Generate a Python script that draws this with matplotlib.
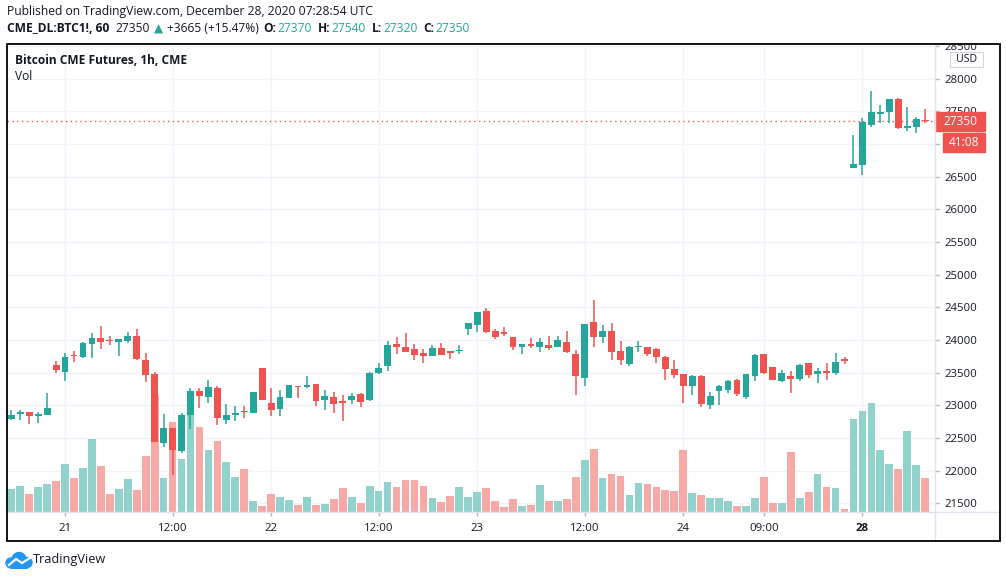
import matplotlib
matplotlib.use("Agg")
import matplotlib.pyplot as plt
from matplotlib.patches import Rectangle, Circle
import numpy as np

plt.rcParams['font.family'] = ['Open Sans', 'DejaVu Sans']

W, H = 1006, 578

# hourly OHLC, CME BTC futures, Dec 20 18:00 UTC .. Dec 28 07:00 UTC
opens = [22796, 22873, 22898, 22842, 22858, 23617, 23516, 23760, 23740, 23944,
         24031, 23985, 23974, 23990, 24061, 23694, 23480, 22429, 22654, 22307,
         22853, 23220, 23133, 23265, 22781, 22858, 22900, 22888, 23572, 23036,
         22949, 23118, 23291, 23286, 23319, 23080, 23121, 23060, 23080, 23167,
         23080, 23492, 23599, 23944, 23898, 23868, 23807, 23761, 23883, 23837,
         23827, 24163, 24224, 24449, 24143, 24112, 24051, 23888, 23944, 23888,
         23929, 23888, 23974, 23791, 23424, 24281, 24051, 24143, 23837, 23638,
         23893, 23898, 23867, 23745, 23556, 23480, 23301, 23449, 23011, 23225,
         23235, 23388, 23133, 23454, 23786, 23587, 23378, 23449, 23408, 23648,
         23485, 23505, 23500, 23690, 26638, 26679, 27286, 27464, 27495, 27689,
         27250, 27265, 27370]
highs = [22929, 22929, 22898, 22903, 23189, 23679, 23801, 23832, 23969, 24107,
         24214, 24061, 24015, 24122, 24168, 23801, 23510, 22868, 22654, 22883,
         23260, 23260, 23388, 23291, 23020, 22990, 22990, 23204, 23572, 23266,
         23235, 23312, 23291, 23449, 23319, 23228, 23197, 23152, 23182, 23182,
         23517, 23655, 23990, 24051, 24112, 23944, 23868, 23929, 23959, 23837,
         23929, 24265, 24434, 24495, 24173, 24204, 24051, 23944, 24036, 24036,
         24066, 24066, 24143, 23852, 24250, 24617, 24235, 24265, 23990, 23913,
         23990, 23898, 23883, 23760, 23694, 23480, 23465, 23465, 23204, 23312,
         23388, 23403, 23480, 23786, 23786, 23587, 23541, 23526, 23633, 23648,
         23572, 23648, 23801, 23740, 27138, 27403, 27811, 27602, 27689, 27700,
         27566, 27418, 27540]
lows = [22776, 22776, 22715, 22735, 22858, 23495, 23378, 23668, 23724, 23724,
        23862, 23929, 23760, 23959, 23694, 23362, 22439, 22368, 21940, 22276,
        22643, 22965, 23041, 22705, 22720, 22766, 22812, 22888, 23087, 22842,
        22842, 23118, 23118, 23271, 22989, 22928, 22882, 22760, 23020, 22974,
        23065, 23477, 23522, 23782, 23812, 23700, 23644, 23761, 23776, 23715,
        23781, 24071, 24117, 24112, 24010, 24066, 23842, 23781, 23873, 23811,
        23842, 23888, 23806, 23164, 23301, 23888, 23959, 23699, 23623, 23607,
        23822, 23760, 23653, 23393, 23424, 23041, 23164, 22980, 22949, 23011,
        23194, 23148, 23102, 23378, 23485, 23393, 23363, 23194, 23378, 23424,
        23347, 23393, 23470, 23638, 26638, 26531, 27265, 27326, 27326, 27235,
        27204, 27173, 27320]
closes = [22847, 22898, 22837, 22868, 22960, 23541, 23740, 23750, 23954, 24031,
          23974, 23980, 24015, 24061, 23709, 23470, 22439, 22654, 22317, 22847,
          23220, 23148, 23281, 22812, 22847, 22883, 22893, 23204, 23087, 22934,
          23128, 23312, 23281, 23312, 23065, 23147, 23020, 23035, 23147, 23050,
          23487, 23578, 23929, 23888, 23822, 23776, 23751, 23883, 23776, 23807,
          23832, 24265, 24434, 24128, 24041, 24097, 23888, 23944, 23903, 23974,
          23873, 24005, 23822, 23454, 24250, 24051, 24143, 23822, 23699, 23898,
          23898, 23791, 23745, 23561, 23470, 23301, 23449, 23026, 23143, 23296,
          23373, 23179, 23480, 23771, 23500, 23393, 23495, 23408, 23617, 23470,
          23526, 23500, 23663, 23685, 26689, 27337, 27490, 27480, 27689, 27245,
          27270, 27377, 27350]
volume = [23, 26, 18, 25, 28, 31, 48, 34, 44, 73, 46, 18, 23, 33, 22, 56, 117, 34,
          90, 53, 113, 85, 62, 71, 50, 35, 43, 11, 6, 18, 15, 12, 7, 15, 7, 8, 13,
          24, 15, 9, 26, 21, 30, 25, 32, 32, 26, 14, 10, 16, 25, 15, 20, 24, 11, 5,
          13, 6, 7, 27, 11, 11, 13, 35, 52, 63, 34, 38, 36, 17, 29, 28, 25, 22, 21,
          62, 19, 17, 14, 14, 11, 6, 6, 14, 35, 9, 9, 60, 14, 20, 38, 25, 24, 3,
          93, 101, 109, 62, 48, 43, 81, 47, 34]

tick_idx = [6, 18, 29, 41, 52, 64, 75, 84, 95]
tick_labels = ['21', '12:00', '22', '12:00', '23', '12:00', '24', '09:00', '28']
price_ticks = list(range(21500, 28501, 500))

last_price = 27350
countdown = '41:08'

up_col = '#26a69a'
down_col = '#ef5350'
up_vol = '#92d2cc'
down_vol = '#f7a9a7'
grid_col = '#f0f3fa'
line_col = '#e0e3eb'
text_col = '#131722'

fig = plt.figure(figsize=(W / 100, H / 100), dpi=100)


def fx(x):
    return x / W


def fy(y):
    return 1 - y / H


# pane in pixels
pl, pt, pr, pb = 7, 44, 935, 512
rect = [fx(pl), fy(pb), (pr - pl) / W, (pb - pt) / H]

ax_bg = fig.add_axes(rect)
axv = fig.add_axes(rect, sharex=ax_bg)
ax = fig.add_axes(rect, sharex=ax_bg, sharey=ax_bg)
for a in (ax_bg, axv, ax):
    for s in a.spines.values():
        s.set_visible(False)
axv.patch.set_visible(False)
ax.patch.set_visible(False)

x = np.arange(len(opens))
o = np.array(opens)
c = np.array(closes)
up = c >= o
cols = np.where(up, up_col, down_col)
vcols = np.where(up, up_vol, down_vol)

# volume
axv.bar(x, volume, width=0.86, color=vcols, linewidth=0)
axv.set_ylim(0, 468)
axv.set_yticks([])
axv.tick_params(axis='x', bottom=False, labelbottom=False)

# candles
ax.vlines(x, lows, highs, colors=cols, linewidth=1.1, zorder=3)
ax.bar(x, np.maximum(np.abs(c - o), 18), bottom=np.minimum(o, c), width=0.76,
       color=cols, linewidth=0, zorder=4)
ax.axhline(last_price, color=down_col, linestyle=(0, (1, 2.5)), linewidth=1, zorder=2)

ax.set_xlim(-0.48, 103.1)
ax.set_ylim(21367, 28530)

ax.set_xticks(tick_idx, tick_labels)
ax.set_yticks(price_ticks)
ax.yaxis.tick_right()
ax.tick_params(axis='y', length=3, width=1, color='#b2b5be', pad=4, labelsize=8.2,
               labelcolor=text_col)
ax.tick_params(axis='x', length=3, width=1, color='#b2b5be', pad=5, labelsize=8.2,
               labelcolor=text_col)
for tk, lab in zip(ax.xaxis.get_major_ticks(), tick_labels):
    if lab == '28':
        tk.label1.set_fontweight('bold')
# the countdown box covers this price label completely
for tk, val in zip(ax.yaxis.get_major_ticks(), price_ticks):
    if abs(val - (last_price - 350)) < 1:
        tk.label2.set_visible(False)

ax_bg.grid(True, color=grid_col, linewidth=1)
ax_bg.tick_params(left=False, bottom=False, labelleft=False, labelbottom=False)

# last price + countdown labels on the price scale
ytr = ax.get_yaxis_transform()
ppx = 1 / 0.06533  # price units per pixel
ax.add_patch(Rectangle((1.0, last_price - 9.5 * ppx), 50 / (pr - pl), 19 * ppx,
                       transform=ytr, color=down_col, clip_on=False, zorder=6))
ax.text(1.0 + 25 / (pr - pl), last_price, f'{last_price}', transform=ytr, color='white',
        fontsize=8.6, ha='center', va='center', zorder=7, clip_on=False)
ax.add_patch(Rectangle((1.0 + 7.5 / (pr - pl), last_price - 30.5 * ppx), 42 / (pr - pl),
                       19 * ppx, transform=ytr, color=down_col, clip_on=False, zorder=6))
ax.text(1.0 + 28.5 / (pr - pl), last_price - 21 * ppx, countdown, transform=ytr,
        color='white', fontsize=8.6, ha='center', va='center', zorder=7, clip_on=False)

# mask label above the pane top, then frame lines
fig.patches.append(Rectangle((fx(936), fy(44)), fx(1000) - fx(936), fy(30) - fy(44),
                             transform=fig.transFigure, color='white', zorder=8))
fig.add_artist(plt.Line2D([fx(pr), fx(pr)], [fy(pt), fy(541)], color=line_col, lw=1, zorder=9))
fig.add_artist(plt.Line2D([fx(pl), fx(1000)], [fy(pb), fy(pb)], color=line_col, lw=1, zorder=9))
fig.patches.append(Rectangle((fx(7), fy(541)), fx(1000) - fx(7), fy(44) - fy(541),
                             transform=fig.transFigure, fill=False, edgecolor='black',
                             linewidth=1.3, zorder=10))

# USD box
fig.patches.append(Rectangle((fx(950), fy(67)), fx(983) - fx(950), fy(52) - fy(67),
                             transform=fig.transFigure, facecolor='white',
                             edgecolor='#d1d4dc', linewidth=0.8, zorder=9))
fig.text(fx(966.5), fy(59.5), 'USD', fontsize=7.6, color=text_col, ha='center',
         va='center', zorder=10)

# pane legend
fig.text(fx(15), fy(61), 'Bitcoin CME Futures, 1h, CME', fontsize=8.6, fontweight='bold',
         color=text_col, va='center')
fig.text(fx(15), fy(77), 'Vol', fontsize=8.6, color=text_col, va='center')

# header
fig.text(fx(7), fy(12), 'Published on TradingView.com, December 28, 2020 07:28:54 UTC',
         fontsize=8.7, color=text_col, va='center')

pieces = [('CME_DL:BTC1!, 60', 'bold', text_col, 6),
          ('27350', 'normal', text_col, 4),
          ('\u25b2', 'normal', up_col, 4),
          ('+3665 (+15.47%)', 'normal', text_col, 5),
          ('O:', 'bold', text_col, 1),
          ('27370', 'normal', up_col, 6),
          ('H:', 'bold', text_col, 1),
          ('27540', 'normal', up_col, 6),
          ('L:', 'bold', text_col, 1),
          ('27320', 'normal', up_col, 6),
          ('C:', 'bold', text_col, 1),
          ('27350', 'normal', up_col, 0)]
renderer = fig.canvas.get_renderer()
cx = 7
for txt, wt, col, gap in pieces:
    t = fig.text(fx(cx), fy(29), txt, fontsize=8.65, fontweight=wt, color=col, va='center',
                 family=['Open Sans', 'DejaVu Sans'])
    cx += t.get_window_extent(renderer).width + gap

# logo
lax = fig.add_axes([fx(5), fy(569), fx(34) - fx(5), fy(551) - fy(569)])
lax.set_xlim(0, 29)
lax.set_ylim(0, 18)
lax.axis('off')
logo_blue = '#2196f3'
for cxx, cyy, rr in [(6, 6, 5), (14, 9.5, 7), (22, 6.5, 5)]:
    lax.add_patch(Circle((cxx, cyy), rr, color=logo_blue))
lax.add_patch(Rectangle((6, 1), 16, 6, color=logo_blue))
lax.plot([4, 11, 17, 25], [4, 10, 6, 11], color='white', lw=1.6, solid_joinstyle='miter')
fig.text(fx(33), fy(560), 'TradingView', fontsize=9.2, color=text_col, va='center')

fig.savefig('out.png', dpi=100)
